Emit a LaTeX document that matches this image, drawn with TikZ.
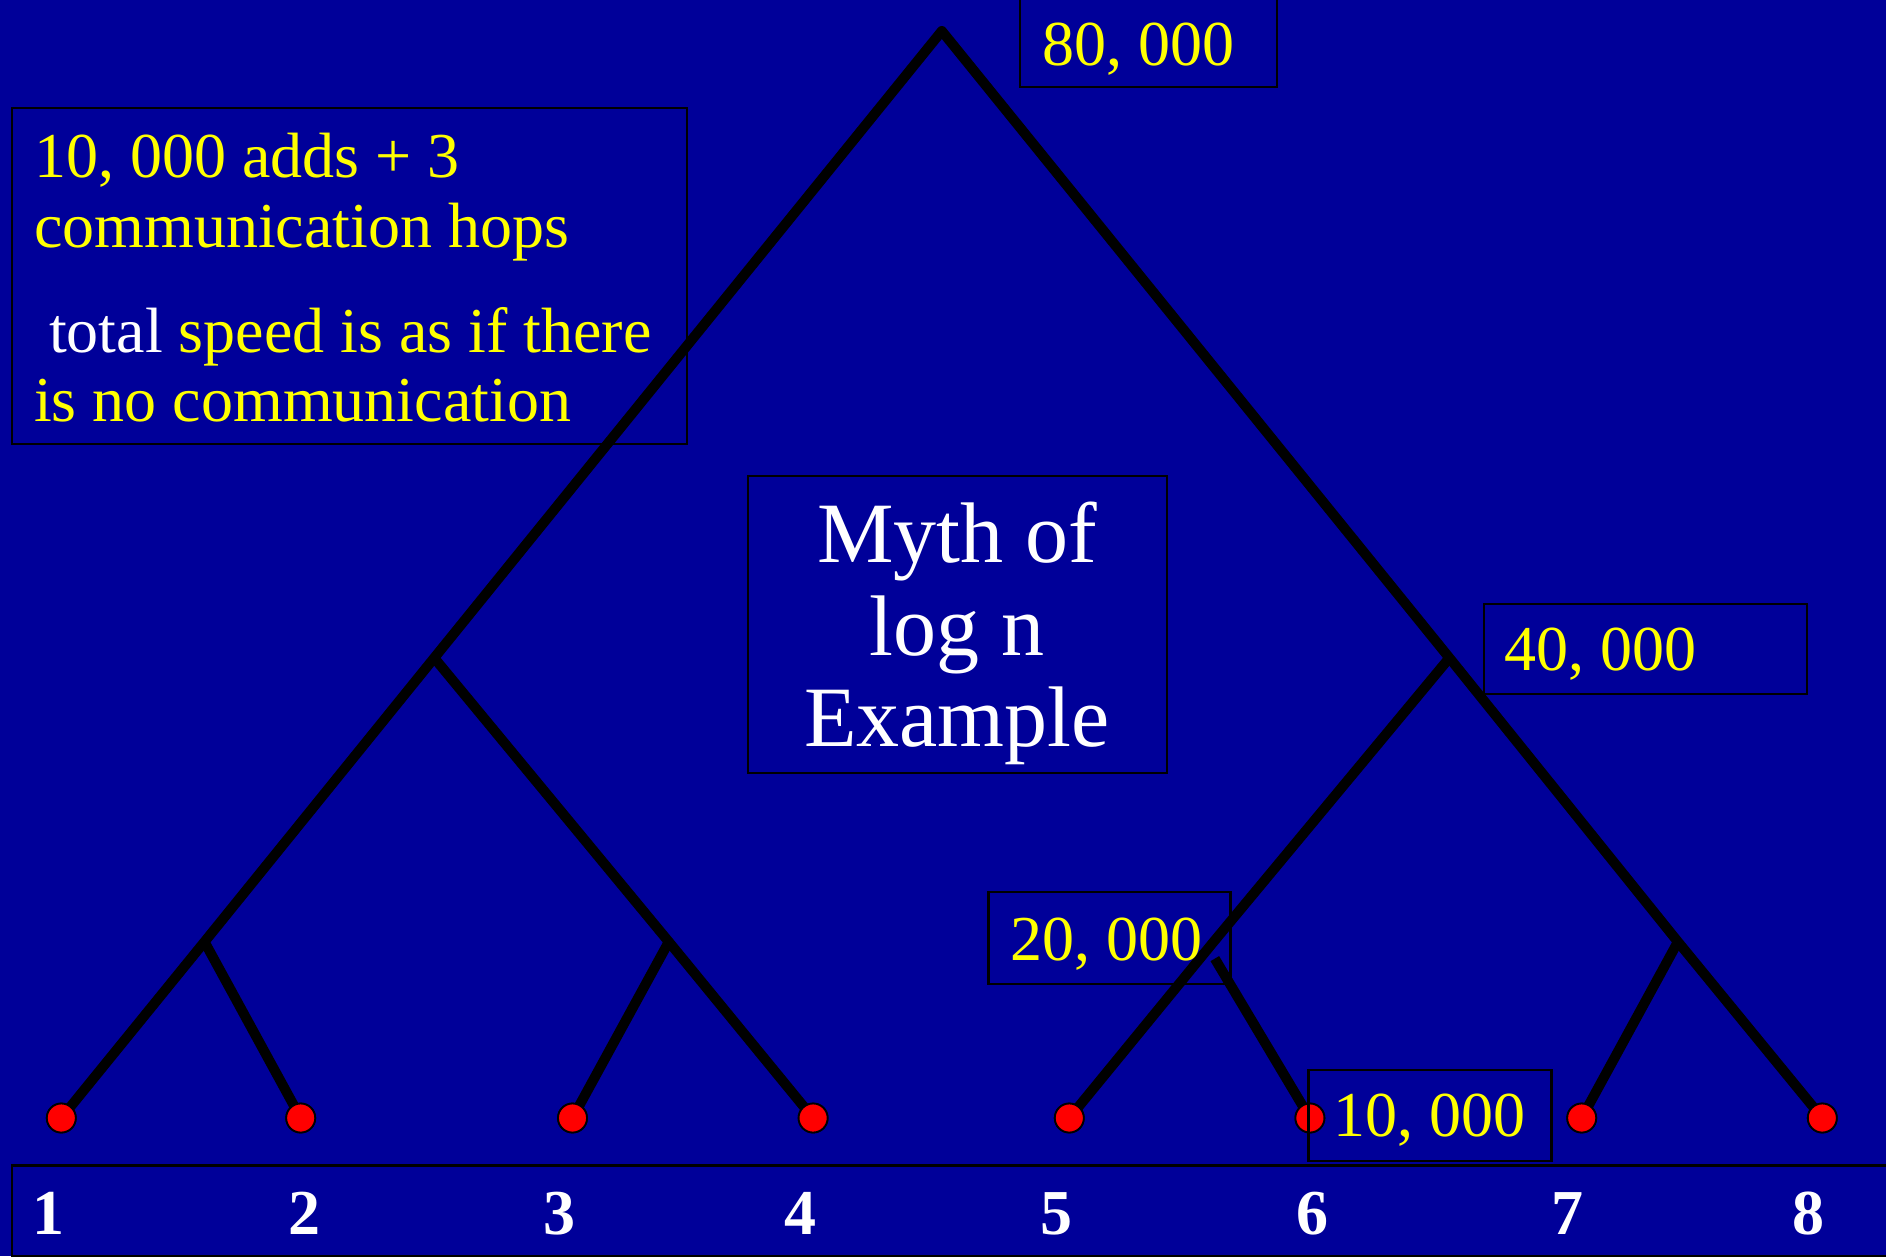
\documentclass[tikz,border=0pt]{standalone}
\usepackage{fontspec}
\setmainfont{Liberation Serif}
\definecolor{bg}{RGB}{0,0,153}
\definecolor{yel}{RGB}{255,255,0}
\begin{document}
\begin{tikzpicture}[x=1pt,y=-1pt,
  branch/.style={line width=10pt, draw=black, line join=round},
  leafdot/.style={circle, fill=red, draw=black, line width=1.8pt, minimum size=29pt, inner sep=0pt},
  box/.style={draw=black, line width=2.5pt, rectangle, inner sep=0pt},
  lbl/.style={text=yel, font=\fontsize{64}{70}\selectfont, anchor=base west, inner sep=0pt},
  myth/.style={text=white, font=\fontsize{86}{92}\selectfont, anchor=base, inner sep=0pt},
  num/.style={text=white, font=\fontsize{64}{70}\selectfont\bfseries, anchor=base, inner sep=0pt},
]
\fill[bg] (0,0) rectangle (1886,1256);
\useasboundingbox (0,0) rectangle (1886,1256);

% tree points
\coordinate (root) at (941.8,31);
\coordinate (la) at (434.2,657.9);
\coordinate (ra) at (1449.4,657.9);
\coordinate (l2a) at (204.5,941.8);
\coordinate (l2b) at (668.8,941.8);
\coordinate (l2c) at (1213.6,941.8);
\coordinate (l2d) at (1677.9,941.8);
\coordinate (s6) at (1214.8,958.6);

\node[leafdot] (n1) at (61.3,1118) {};
\node[leafdot] (n2) at (300.7,1118) {};
\node[leafdot] (n3) at (572.5,1118) {};
\node[leafdot] (n4) at (813.1,1118) {};
\node[leafdot] (n5) at (1069.3,1118) {};
\node[leafdot] (n6) at (1309.9,1118) {};
\node[leafdot] (n7) at (1581.7,1118) {};
\node[leafdot] (n8) at (1822.3,1118) {};

\draw[branch] (n1.center) -- (l2a) -- (la) -- (root) -- (ra) -- (l2d) -- (n8.center);
\draw[branch] (l2a) -- (n2.center);
\draw[branch] (la) -- (l2b) -- (n4.center);
\draw[branch] (l2b) -- (n3.center);
\draw[branch] (ra) -- (l2c) -- (n5.center);
\draw[branch] (s6) -- (n6.center);
\draw[branch] (l2d) -- (n7.center);

% redraw leaves on top
\foreach \p in {n1,n2,n3,n4,n5,n6,n7,n8}{
  \path (\p.center) node[leafdot] {};
}

% boxes
\node[box, minimum width=257pt, minimum height=97pt] (b80) at (1148.5,38.5) {};
\node[box, minimum width=675pt, minimum height=336pt] (bleft) at (349.5,276) {};
\node[box, minimum width=419pt, minimum height=297pt] (bmyth) at (957.5,624.5) {};
\node[box, minimum width=323pt, minimum height=90pt] (b40) at (1645.5,649) {};
\node[box, minimum width=242pt, minimum height=92pt] (b20) at (1109.5,938) {};
\node[box, minimum width=243pt, minimum height=91pt] (b10) at (1430,1115.5) {};
\node[box, minimum width=1900pt, minimum height=91pt] (bar) at (962,1211) {};

% labels
\node[lbl] (t80) at (1042,65) {80, 000};
\node[lbl] (t40) at (1504,670) {40, 000};
\node[lbl] (t20) at (1010,960) {20, 000};
\node[lbl] (t10) at (1333,1136) {10, 000};

\node[lbl] (tl1) at (34,177) {10, 000 adds + 3};
\node[lbl] (tl2) at (34,247) {communication hops};
\node[lbl] (tl3) at (49,352) {\textcolor{white}{total} speed is as if there};
\node[lbl] (tl4) at (34,421) {is no communication};

\node[myth] (m1) at (957,562) {Myth of};
\node[myth] (m2) at (957,655) {log n};
\node[myth] (m3) at (957,746) {Example};

\node[num] (k1) at (48,1234) {1};
\node[num] (k2) at (304,1234) {2};
\node[num] (k3) at (559,1234) {3};
\node[num] (k4) at (800,1234) {4};
\node[num] (k5) at (1056,1234) {5};
\node[num] (k6) at (1312,1234) {6};
\node[num] (k7) at (1567,1234) {7};
\node[num] (k8) at (1808,1234) {8};
\end{tikzpicture}
\end{document}
